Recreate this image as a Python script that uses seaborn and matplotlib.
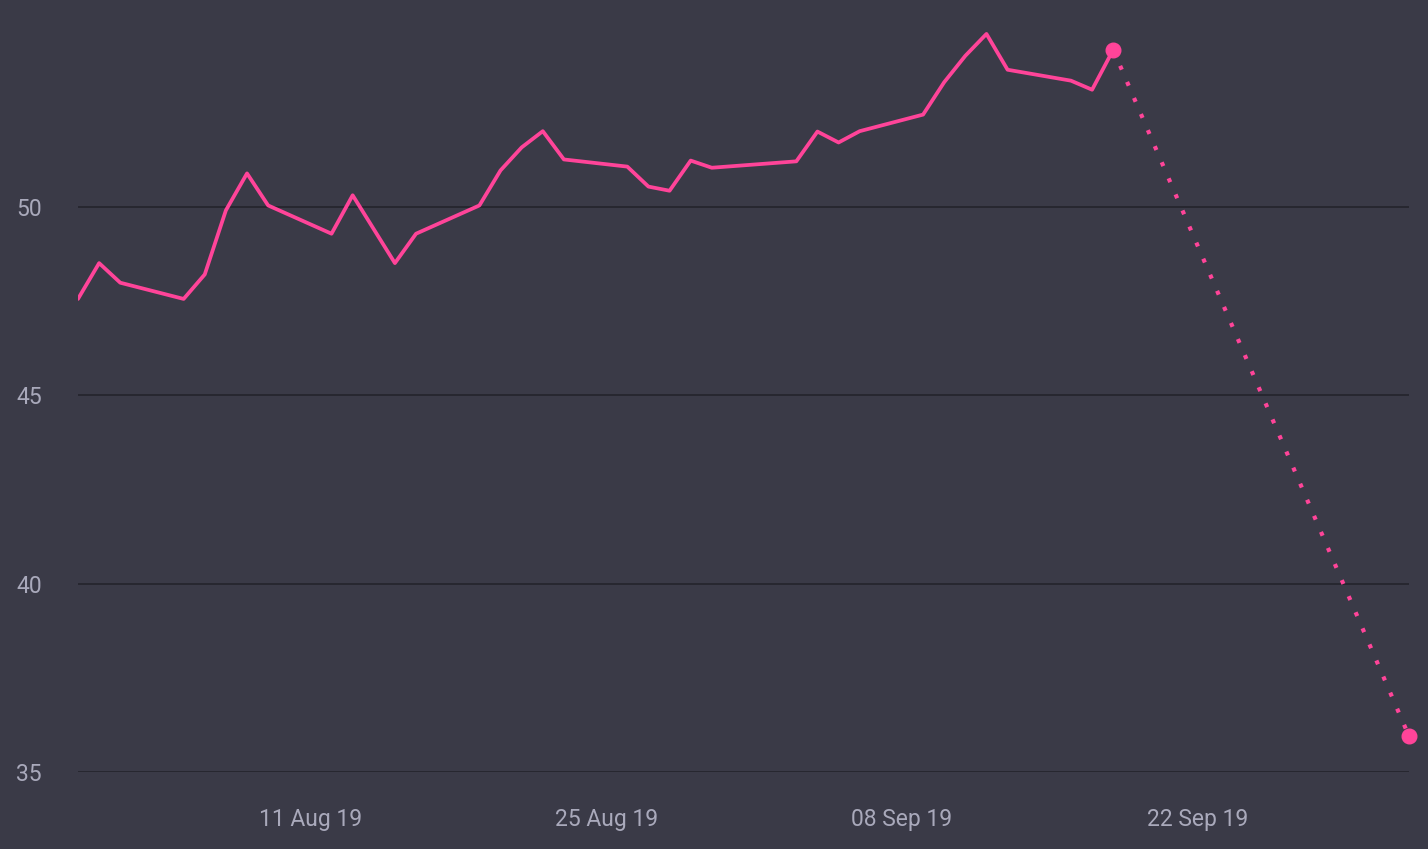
"""
Price line with a dotted projection to a target point, dark theme.
"""

import pandas as pd
import matplotlib.pyplot as plt
import matplotlib.dates as mdates
import seaborn as sns

# Data
dates = ['2019-07-31', '2019-08-01', '2019-08-02', '2019-08-05', '2019-08-06',
         '2019-08-07', '2019-08-08', '2019-08-09', '2019-08-12', '2019-08-13',
         '2019-08-15', '2019-08-16', '2019-08-19', '2019-08-20', '2019-08-21',
         '2019-08-22', '2019-08-23', '2019-08-26', '2019-08-27', '2019-08-28',
         '2019-08-29', '2019-08-30', '2019-09-03', '2019-09-04', '2019-09-05',
         '2019-09-06', '2019-09-09', '2019-09-10', '2019-09-11', '2019-09-12',
         '2019-09-13', '2019-09-16', '2019-09-17', '2019-09-18']
prices = [47.55, 48.5, 47.98, 47.55, 48.2,
          49.9, 50.88, 50.03, 49.28, 50.3,
          48.5, 49.28, 50.03, 50.96, 51.57,
          52.0, 51.25, 51.06, 50.53, 50.42,
          51.22, 51.03, 51.2, 51.99, 51.7,
          52.0, 52.44, 53.3, 54.0, 54.58,
          53.63, 53.34, 53.1, 54.16]

proj_dates = ['2019-09-18', '2019-10-02']
proj_prices = [54.16, 35.95]

y_ticks = [35, 40, 45, 50]
x_ticks = ['2019-08-11', '2019-08-25', '2019-09-08', '2019-09-22']

BG = '#3a3a47'
PINK = '#ff4499'
TXT = '#a9a9bb'
GRID = '#26262e'

df = pd.DataFrame({'date': pd.to_datetime(dates), 'price': prices})
proj = pd.DataFrame({'date': pd.to_datetime(proj_dates), 'price': proj_prices})

sns.set_style('dark')
plt.rcParams['font.family'] = ['Roboto', 'DejaVu Sans']

fig = plt.figure(figsize=(14.28, 8.49), dpi=100)
fig.patch.set_facecolor(BG)
ax = fig.add_axes([78 / 1428, 1 - 772 / 849, 1331 / 1428, 772 / 849])
ax.set_facecolor(BG)

sns.lineplot(data=df, x='date', y='price', ax=ax, color=PINK, linewidth=2.7)
sns.lineplot(data=proj, x='date', y='price', ax=ax, color=PINK, linewidth=3.0,
             linestyle=(0, (1.0, 3.2)))
ax.plot(proj['date'], proj['price'], 'o', color=PINK, markersize=10.5, clip_on=False,
        zorder=5)

ax.set_xlim(pd.Timestamp('2019-07-31'), pd.Timestamp('2019-10-02'))
ax.set_ylim(35, 55.48)

ax.set_yticks(y_ticks)
ax.set_xticks(pd.to_datetime(x_ticks))
ax.xaxis.set_major_formatter(mdates.DateFormatter('%d %b %y'))

ax.grid(False)
for y in y_ticks:
    ax.axhline(y, color=GRID, linewidth=1.3, zorder=0)

ax.tick_params(axis='both', length=0, labelsize=16.5, labelcolor=TXT)
ax.tick_params(axis='y', pad=26)
ax.tick_params(axis='x', pad=26)
ax.set_xlabel('')
ax.set_ylabel('')
for s in ax.spines.values():
    s.set_visible(False)

plt.savefig('out.png', dpi=100, facecolor=BG)
